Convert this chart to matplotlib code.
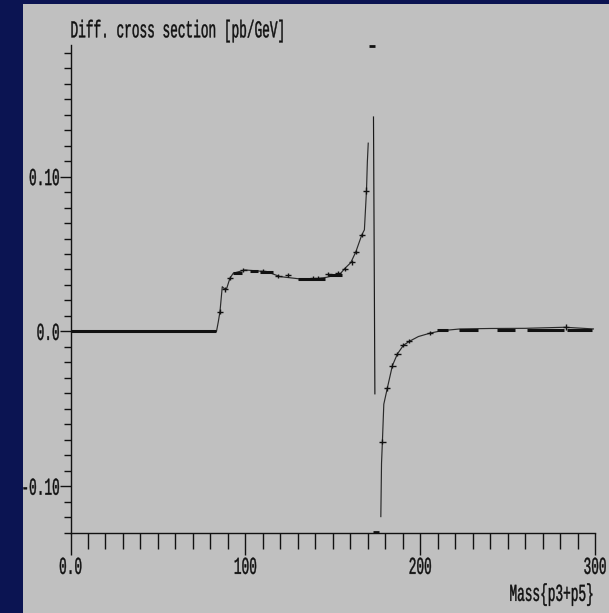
"""Differential cross section vs Mass{p3+p5}, CompHEP-style plot."""

import matplotlib

matplotlib.use("Agg")
import matplotlib.pyplot as plt
import numpy as np
from matplotlib import patches
from matplotlib.patheffects import AbstractPathEffect
from matplotlib.ticker import FixedLocator
from matplotlib.transforms import Affine2D

# curve (thin line)
mass_left = [0.0, 83.5, 84.5, 85.5, 86.8, 88.4, 89.4, 91.2, 93.1, 99.8, 112.2, 119.9,
             131.3, 138.9, 146.6, 154.2, 157.0, 160.3, 163.2, 166.6, 168.1, 169.3, 169.8, 170.3]
sigma_left = [0.0, 0.0, 0.006, 0.0128, 0.0289, 0.0272, 0.0280, 0.0344, 0.0376, 0.0397, 0.0386, 0.0354,
              0.0339, 0.0337, 0.0350, 0.0371, 0.0408, 0.0444, 0.0514, 0.0623, 0.0656, 0.0910, 0.1097, 0.1216]
mass_spike = [173.3, 173.5, 174.1]
sigma_spike = [0.1385, 0.0950, -0.0403]
mass_right = [177.5, 177.9, 178.4, 179.2, 181.2, 184.1, 187.0, 190.4, 193.8, 199.0,
              205.7, 212.4, 222.8, 240.0, 260.0, 282.9, 299.1]
sigma_right = [-0.1196, -0.0851, -0.0712, -0.0470, -0.0367, -0.0221, -0.0145, -0.0090, -0.0064, -0.0033,
               -0.0011, 0.0005, 0.0016, 0.0019, 0.0020, 0.0027, 0.0016]

# histogram bins that show up as thick flat pieces
bin_lo = [0.0, 93.0, 102.7, 108.4, 130.3, 147.5, 209.5, 222.0, 244.0, 261.0, 284.0]
bin_hi = [83.5, 97.9, 107.4, 116.0, 145.6, 155.1, 216.0, 233.0, 254.0, 282.0, 298.0]
bin_val = [0.0, 0.0376, 0.0391, 0.0382, 0.0339, 0.0365, 0.0011, 0.0012, 0.0010, 0.0010, 0.0011]

# bins drawn with error crosses
err_mass = [85.5, 88.4, 91.2, 98.9, 110.3, 118.9, 124.6, 138.9, 141.8, 147.5, 153.2, 157.0,
            160.9, 163.2, 166.6, 169.1, 178.4, 181.2, 184.1, 187.0, 190.4, 193.6, 205.7, 283.3]
err_sigma = [0.0128, 0.0272, 0.0344, 0.0397, 0.0393, 0.0360, 0.0365, 0.0344, 0.0344, 0.0371, 0.0376, 0.0404,
             0.0447, 0.0514, 0.0623, 0.0910, -0.0712, -0.0367, -0.0221, -0.0145, -0.0087, -0.0061, -0.0010, 0.0027]
err_dsigma = [0.0015, 0.0015, 0.0015, 0.0012, 0.0012, 0.0012, 0.0012, 0.0012, 0.0012, 0.0012, 0.0012, 0.0015,
              0.0015, 0.0015, 0.0015, 0.0022, 0.0015, 0.0015, 0.0015, 0.0015, 0.0012, 0.0012, 0.0010, 0.0020]
bin_half = 1.8

# bins outside the frame, drawn on the edges
clip_mass = [172.3, 174.6]
clip_sigma = [0.1845, -0.1293]

X_MAJOR = [0, 100, 200, 300]
X_LABELS = ["0.0", "100", "200", "300"]
Y_MAJOR = [-0.10, 0.0, 0.10]
Y_LABELS = ["-0.10", "0.0", "0.10"]
XLIM = (0, 300)
YLIM = (-0.13, 0.185)

GRAY = "#c0c0c0"
NAVY = "#0b1452"
INK = "#111111"
FONT = ["Liberation Mono", "DejaVu Sans Mono"]
FS = 9.2

W, H = 609, 613


class TallText(AbstractPathEffect):
    """Stretch glyphs vertically around the cap middle (narrow tall terminal font look)."""

    def __init__(self, sy=1.9, yc=34.5, stroke=0.3):
        super().__init__()
        self._stretch = Affine2D().translate(0, -yc).scale(1, sy).translate(0, yc)
        self._stroke = stroke

    def draw_path(self, renderer, gc, tpath, affine, rgbFace=None):
        gc0 = renderer.new_gc()
        gc0.copy_properties(gc)
        if rgbFace is not None:
            gc0.set_foreground(rgbFace)
        gc0.set_linewidth(self._stroke)
        renderer.draw_path(gc0, tpath, self._stretch + affine, rgbFace)
        gc0.restore()


TALL = [TallText()]

fig = plt.figure(figsize=(W / 100, H / 100), dpi=100, facecolor=GRAY)
fig.patches.append(patches.Rectangle((0, 0), 23 / W, 1, transform=fig.transFigure,
                                     facecolor=NAVY, edgecolor="none", zorder=-1))
fig.patches.append(patches.Rectangle((0, 1 - 4 / H), 1, 4 / H, transform=fig.transFigure,
                                     facecolor=NAVY, edgecolor="none", zorder=-1))

ax = fig.add_axes([70.5 / W, 1 - 532.7 / H, (595 - 70.5) / W, (532.7 - 45) / H])
ax.set_facecolor(GRAY)

ax.plot(mass_left, sigma_left, color="#2a2a2a", lw=0.85)
ax.plot(mass_spike, sigma_spike, color="#1a1a1a", lw=0.85)
ax.plot(mass_right, sigma_right, color="#2a2a2a", lw=0.85)
ax.hlines(bin_val, bin_lo, bin_hi, color=INK, lw=2.2)
ax.errorbar(err_mass, err_sigma, xerr=bin_half, yerr=err_dsigma, fmt="none",
            ecolor=INK, elinewidth=1.0, capsize=0)
ax.errorbar(clip_mass, clip_sigma, xerr=bin_half, fmt="none", ecolor=INK,
            elinewidth=2.0, capsize=0, clip_on=False)

ax.set_xlim(*XLIM)
ax.set_ylim(*YLIM)
for side in ["top", "right"]:
    ax.spines[side].set_visible(False)
for side in ["left", "bottom"]:
    ax.spines[side].set_linewidth(1.0)
    ax.spines[side].set_color(INK)

ax.set_xticks(X_MAJOR, labels=X_LABELS)
ax.xaxis.set_minor_locator(FixedLocator(np.arange(0, 301, 10)))
ax.set_yticks(Y_MAJOR, labels=Y_LABELS)
ax.yaxis.set_minor_locator(FixedLocator(np.round(np.arange(-13, 19) * 0.01, 2)))
ax.tick_params(axis="x", which="major", direction="out", length=15.8, width=1.0, color=INK, pad=4.5)
ax.tick_params(axis="x", which="minor", direction="out", length=11.5, width=1.0, color=INK)
ax.tick_params(axis="y", which="major", direction="out", length=7.6, width=1.0, color=INK, pad=0.3)
ax.tick_params(axis="y", which="minor", direction="out", length=5.3, width=1.0, color=INK)
for lab in ax.get_xticklabels() + ax.get_yticklabels():
    lab.set_fontfamily(FONT)
    lab.set_fontsize(FS)
    lab.set_color(INK)
    lab.set_path_effects(TALL)

fig.text(70.5 / W, 1 - 33.4 / H, "Diff. cross section [pb/GeV]", ha="left", va="baseline",
         family=FONT, fontsize=FS, color=INK, path_effects=TALL)
fig.text(593.3 / W, 1 - 596.9 / H, "Mass{p3+p5}", ha="right", va="baseline",
         family=FONT, fontsize=FS, color=INK, path_effects=TALL)

fig.savefig("out.png", dpi=100, facecolor=GRAY)
